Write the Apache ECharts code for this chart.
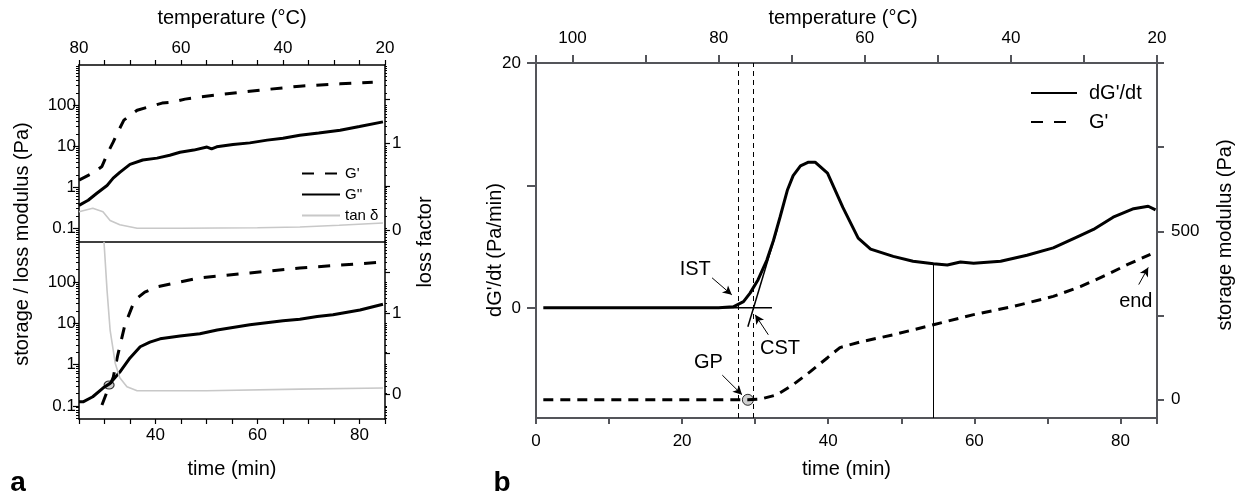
<!DOCTYPE html>
<html>
<head>
<meta charset="utf-8">
<script src="https://cdn.jsdelivr.net/npm/echarts@6/dist/echarts.min.js"></script>
<style>
  html, body { margin: 0; background: #fff; }
  #chart { width: 1240px; height: 499px; }
</style>
</head>
<body>
<div id="chart"></div>
<script>
// ---- panel a, upper half (log modulus, loss factor) ----
const aTopGpT = [25, 27.7, 29.5, 30.7, 31.7, 32.8, 33.8, 36.4, 38.5, 41.3, 43.4, 45.8, 48.7, 58.5, 68.3, 76.2, 82.6];
const aTopGpV = [1.48, 2.2, 3.2, 7.1, 12.5, 24.5, 43, 75, 89, 112, 118, 140, 158, 218, 290, 330, 363];
const aTopGppT = [25, 26.8, 28.5, 30.5, 31.7, 33, 35, 37.5, 40.3, 42.8, 44.8, 47.5, 50.1, 51, 52, 55.2, 58.5, 61.9, 65, 68.3, 72, 76.2, 80, 84.6];
const aTopGppV = [0.36, 0.48, 0.71, 1.1, 1.66, 2.3, 3.6, 4.6, 5.1, 6.0, 7.1, 8, 9.5, 8.6, 9.6, 11, 12, 14, 15.5, 18.5, 21, 24.5, 30, 39];
const aTopTanT = [25, 27.7, 29.7, 31.1, 33, 36.4, 45, 60, 68.3, 76, 84.6];
const aTopTanV = [0.21, 0.25, 0.21, 0.11, 0.06, 0.02, 0.02, 0.025, 0.035, 0.055, 0.08];

// ---- panel a, lower half ----
const aBotGpT = [29.5, 30.5, 31.7, 32.6, 34, 35.4, 36, 37.9, 40.3, 44.8, 48.7, 58.5, 68.3, 76, 84];
const aBotGpV = [0.105, 0.22, 0.48, 1.7, 9.1, 25, 37, 57, 76, 100, 126, 165, 218, 255, 300];
const aBotGppT = [25, 25.8, 27.7, 29.7, 31.1, 33, 35, 37, 38.9, 40.9, 44.8, 48.7, 52.1, 58.5, 65, 68.3, 71.7, 74.8, 80.1, 84.6];
const aBotGppV = [0.125, 0.125, 0.166, 0.27, 0.35, 0.66, 1.45, 2.7, 3.5, 4.2, 4.9, 5.6, 6.9, 9.2, 11.5, 12.5, 14.5, 16, 21, 29];
const aBotTanT = [29.9, 30.5, 31.1, 32.1, 33, 34.4, 36.4, 50, 68.3, 84.6];
const aBotTanV = [1.88, 1.28, 0.79, 0.38, 0.2, 0.09, 0.04, 0.04, 0.06, 0.074];
const aGelPoint = [30.9, 0.32];

// ---- panel b ----
const bRateT = [1, 10, 20, 25, 27, 28.4, 29.3, 30.4, 31.6, 32.5, 33.4, 34.4, 35.2, 36.2, 37.3, 38.2, 39.9, 42, 44.1, 45.8, 48.9, 51.6, 54.4, 56.3, 58.1, 59.9, 63.6, 67.2, 70.8, 74.1, 76.3, 79, 81.8, 83.8, 84.8];
const bRateV = [0, 0, 0, 0, 0.08, 0.5, 1.2, 2.3, 3.9, 5.5, 7.4, 9.6, 10.8, 11.6, 11.9, 11.9, 11.0, 8.2, 5.7, 4.8, 4.2, 3.8, 3.6, 3.5, 3.75, 3.65, 3.8, 4.3, 4.9, 5.8, 6.4, 7.4, 8.1, 8.3, 8.0];
const bGpT = [1, 29, 30.7, 33, 35.2, 37.5, 39.9, 41.6, 44.4, 48.9, 54.4, 59.9, 65.3, 70.8, 74.5, 78.2, 81, 84.1];
const bGpV = [0, 0, 2, 15, 45, 83, 125, 155, 172, 193, 223, 253, 277, 307, 336, 372, 402, 432];
const bTangentT = [29.0, 33.0];
const bTangentV = [-1.55, 6.4];
const bBaseT = [19.5, 32.3];
const bBaseV = [0, 0];
const bGelPoint = [29.0, 0];
const bVLines = [27.7, 29.7];      // IST, CST
const bMinT = 54.4, bMinV = 3.6;  // minimum of dG'/dt
const bLabels = ['IST', 'CST', 'GP', 'end'];
const bLabelT = [21.8, 33.4, 23.6, 82.1];
const bLabelV = [3.1, -3.3, -4.5, 0.5];
const bArrowFrom = [[24.1, 2.45], [31.8, -2.2], [25.5, -5.5], [82.5, 1.9]];
const bArrowTo = [[26.8, 1.06], [30.0, -0.57], [28.2, -7.1], [83.8, 3.3]];

// tick labels
const logLabels = [0.1, 1, 10, 100];
const lossLabels = [0, 1];
const lossTicks = [0, 0.5, 1, 1.5];
const aTempLabels = [20, 40, 60, 80];
const aTimeLabels = [40, 60, 80];
const bTimeLabels = [0, 20, 40, 60, 80];
const bTempLabels = [20, 40, 60, 80, 100];
const bRateTicks = [0, 10, 20];
const bRateLabels = [0, 20];
const bModTicks = [0, 250, 500, 750, 1000];
const bModLabels = [0, 500];

const FONT = '"Liberation Sans", Arial, sans-serif';
const pairs = (xs, ys) => xs.map((x, i) => [x, ys[i]]);

// minor ticks of the log axes: 2..9 times each decade
const logMinor = [];
[0.01, 0.1, 1, 10, 100].forEach(d => {
  for (let m = 2; m <= 9; m++) logMinor.push(+(m * d).toPrecision(3));
});
const logAll = logMinor.concat(logLabels);

function axis(o) {
  const base = {
    type: 'value',
    splitLine: { show: false },
    axisLine: { show: true, onZero: false, lineStyle: { color: '#000', width: 1.5 } },
    axisTick: { show: true, inside: false, length: 5, lineStyle: { color: '#000', width: 1.2 } },
    axisLabel: { color: '#000', fontSize: 17, fontFamily: FONT },
    nameTextStyle: { color: '#000', fontSize: 20, fontFamily: FONT },
    nameLocation: 'middle'
  };
  const out = Object.assign({}, base, o);
  ['axisLine', 'axisTick', 'axisLabel', 'nameTextStyle'].forEach(k => {
    out[k] = Object.assign({}, base[k], o[k] || {});
  });
  return out;
}

// tick-only log axis (minor ticks / mirrored ticks)
function logTicks(grid, pos, min, max, values, len) {
  return axis({ gridIndex: grid, type: 'log', position: pos, min: min, max: max,
    axisLine: { show: false }, axisTick: { customValues: values, length: len, lineStyle: { width: 1 } },
    axisLabel: { show: false } });
}

function label(text, x, y, rotate, font) {
  return { type: 'text', x: x, y: y, rotation: rotate ? Math.PI / 2 : 0,
    style: { text: text, font: font || ('20px ' + FONT), fill: '#000', textAlign: 'center', textVerticalAlign: 'middle' } };
}

const thick = { color: '#000', width: 3 };
const gray = { color: '#c8c8c8', width: 1.6 };
const noSymbol = { color: 'rgba(0,0,0,0)', borderColor: 'rgba(0,0,0,0)', borderWidth: 0, opacity: 0 };

const myChart = echarts.init(document.getElementById('chart'));
const option = {
  animation: false,
  grid: [
    { left: 79, top: 65, width: 306, height: 177, outerBoundsMode: 'none' },
    { left: 79, top: 242, width: 306, height: 177, outerBoundsMode: 'none' },
    { left: 536, top: 63, width: 621, height: 355, outerBoundsMode: 'none' }
  ],
  xAxis: [
    axis({ gridIndex: 0, position: 'bottom', min: 25, max: 85, axisTick: { show: false }, axisLabel: { show: false } }),
    axis({ gridIndex: 0, position: 'top', min: 20, max: 80, inverse: true, interval: 5,
      axisLabel: { customValues: aTempLabels, margin: 8 },
      name: 'temperature (°C)', nameGap: 37 }),
    axis({ gridIndex: 1, position: 'bottom', min: 25, max: 85, interval: 5,
      axisLabel: { customValues: aTimeLabels, margin: 8 },
      name: 'time (min)', nameGap: 40 }),
    axis({ gridIndex: 2, position: 'bottom', min: 0, max: 85, interval: 10,
      axisLine: { lineStyle: { width: 2 } }, axisTick: { length: 6, lineStyle: { width: 2 } },
      axisLabel: { customValues: bTimeLabels, margin: 15 },
      name: 'time (min)', nameGap: 41 }),
    axis({ gridIndex: 2, position: 'top', min: 20, max: 105, inverse: true, interval: 10,
      axisLine: { lineStyle: { width: 2 } }, axisTick: { length: 8, lineStyle: { width: 2 } },
      axisLabel: { customValues: bTempLabels, margin: 16 } })
  ],
  yAxis: [
    axis({ gridIndex: 0, type: 'log', position: 'left', min: 0.046, max: 950,
      axisTick: { customValues: logLabels, length: 6 },
      axisLabel: { customValues: logLabels, margin: 3, formatter: v => String(+(+v).toPrecision(3)) } }),
    logTicks(0, 'left', 0.046, 950, logMinor, 3),
    axis({ gridIndex: 0, position: 'right', min: -0.138, max: 1.897,
      axisTick: { customValues: lossTicks }, axisLabel: { customValues: lossLabels, margin: 7 } }),
    axis({ gridIndex: 1, type: 'log', position: 'left', min: 0.048, max: 930,
      axisTick: { customValues: logLabels, length: 6 },
      axisLabel: { customValues: logLabels, margin: 3, formatter: v => String(+(+v).toPrecision(3)) } }),
    logTicks(1, 'left', 0.048, 930, logMinor, 3),
    axis({ gridIndex: 1, position: 'right', min: -0.309, max: 1.877,
      axisTick: { customValues: lossTicks }, axisLabel: { customValues: lossLabels, margin: 7 } }),
    axis({ gridIndex: 2, position: 'left', min: -9, max: 20,
      axisLine: { lineStyle: { width: 2 } }, axisTick: { customValues: bRateTicks, length: 9, lineStyle: { width: 2 } },
      axisLabel: { customValues: bRateLabels, margin: 15 } }),
    axis({ gridIndex: 2, position: 'right', min: -54, max: 1000,
      axisLine: { lineStyle: { width: 2 } }, axisTick: { customValues: bModTicks, length: 7, lineStyle: { width: 2 } },
      axisLabel: { customValues: bModLabels, margin: 14 } }),
    logTicks(0, 'right', 0.046, 950, logAll, 2),
    logTicks(1, 'right', 0.048, 930, logAll, 2)
  ],
  legend: [
    { data: ["G'", "G''", 'tan δ'], left: 296, top: 161, orient: 'vertical', selectedMode: false,
      itemWidth: 38, itemHeight: 14, itemGap: 6, itemStyle: noSymbol,
      textStyle: { fontSize: 15, fontFamily: FONT, color: '#000', padding: [0, 0, 0, 0] } },
    { data: ["dG'/dt", "G'"], left: 1025, top: 78, orient: 'vertical', selectedMode: false,
      itemWidth: 46, itemHeight: 18, itemGap: 9, itemStyle: noSymbol,
      textStyle: { fontSize: 20, fontFamily: FONT, color: '#000', padding: [0, 0, 0, 7] } }
  ],
  series: [
    { name: "G'", type: 'line', xAxisIndex: 0, yAxisIndex: 0, symbol: 'none',
      lineStyle: Object.assign({ type: [12, 11] }, thick), data: pairs(aTopGpT, aTopGpV) },
    { name: "G''", type: 'line', xAxisIndex: 0, yAxisIndex: 0, symbol: 'none',
      lineStyle: thick, data: pairs(aTopGppT, aTopGppV) },
    { name: 'tan δ', type: 'line', xAxisIndex: 0, yAxisIndex: 2, symbol: 'none',
      lineStyle: gray, data: pairs(aTopTanT, aTopTanV) },
    { name: "G'", type: 'line', xAxisIndex: 2, yAxisIndex: 3, symbol: 'none',
      lineStyle: Object.assign({ type: [12, 11] }, thick), data: pairs(aBotGpT, aBotGpV) },
    { name: "G''", type: 'line', xAxisIndex: 2, yAxisIndex: 3, symbol: 'none',
      lineStyle: thick, data: pairs(aBotGppT, aBotGppV) },
    { name: 'tan δ', type: 'line', xAxisIndex: 2, yAxisIndex: 5, symbol: 'none',
      lineStyle: gray, data: pairs(aBotTanT, aBotTanV) },
    { name: 'GP a', type: 'scatter', xAxisIndex: 2, yAxisIndex: 3, symbol: 'circle', symbolSize: [10, 8],
      itemStyle: { color: '#c4c4c4', borderColor: '#000', borderWidth: 1 }, data: [aGelPoint] },

    { name: "dG'/dt", type: 'line', xAxisIndex: 3, yAxisIndex: 6, symbol: 'none',
      lineStyle: thick, data: pairs(bRateT, bRateV),
      markLine: {
        silent: true, symbol: ['none', 'none'], label: { show: false },
        lineStyle: { color: '#000', width: 1, type: 'solid' },
        data: [
          ...bVLines.map(t => ({ xAxis: t, lineStyle: { type: [5, 4], width: 1 } })),
          [{ coord: [bMinT, bMinV] }, { coord: [bMinT, -9] }],
          ...bArrowFrom.map((p, i) => [
            { coord: p, symbol: 'none' },
            { coord: bArrowTo[i], symbol: 'arrow', symbolSize: [7, 9] }
          ])
        ]
      },
      markPoint: {
        silent: true, symbol: 'circle', symbolSize: 1, itemStyle: { color: 'rgba(0,0,0,0)' },
        label: { show: true, position: 'inside', formatter: '{b}', color: '#000', fontSize: 20, fontFamily: FONT },
        data: bLabels.map((n, i) => ({ name: n, coord: [bLabelT[i], bLabelV[i]] }))
      } },
    { name: 'tangent', type: 'line', xAxisIndex: 3, yAxisIndex: 6, symbol: 'none',
      lineStyle: { color: '#000', width: 1.5 }, data: pairs(bTangentT, bTangentV) },
    { name: 'baseline', type: 'line', xAxisIndex: 3, yAxisIndex: 6, symbol: 'none',
      lineStyle: { color: '#000', width: 1.5 }, data: pairs(bBaseT, bBaseV) },
    { name: "G'", type: 'line', xAxisIndex: 3, yAxisIndex: 7, symbol: 'none',
      lineStyle: Object.assign({ type: [10, 7] }, thick), data: pairs(bGpT, bGpV) },
    { name: 'GP b', type: 'scatter', xAxisIndex: 3, yAxisIndex: 7, symbol: 'circle', symbolSize: 11,
      itemStyle: { color: '#c4c4c4', borderColor: '#000', borderWidth: 1 }, data: [bGelPoint] }
  ],
  graphic: [
    label('storage / loss modulus (Pa)', 22, 244, true),
    label('loss factor', 425, 242, true),
    label('temperature (°C)', 843, 18, false),
    label("dG'/dt (Pa/min)", 495, 250, true),
    label('storage modulus (Pa)', 1225, 235, true),
    label('a', 18, 483, false, 'bold 28px ' + FONT),
    label('b', 502, 483, false, 'bold 28px ' + FONT)
  ]
};
myChart.setOption(option);
</script>
</body>
</html>
